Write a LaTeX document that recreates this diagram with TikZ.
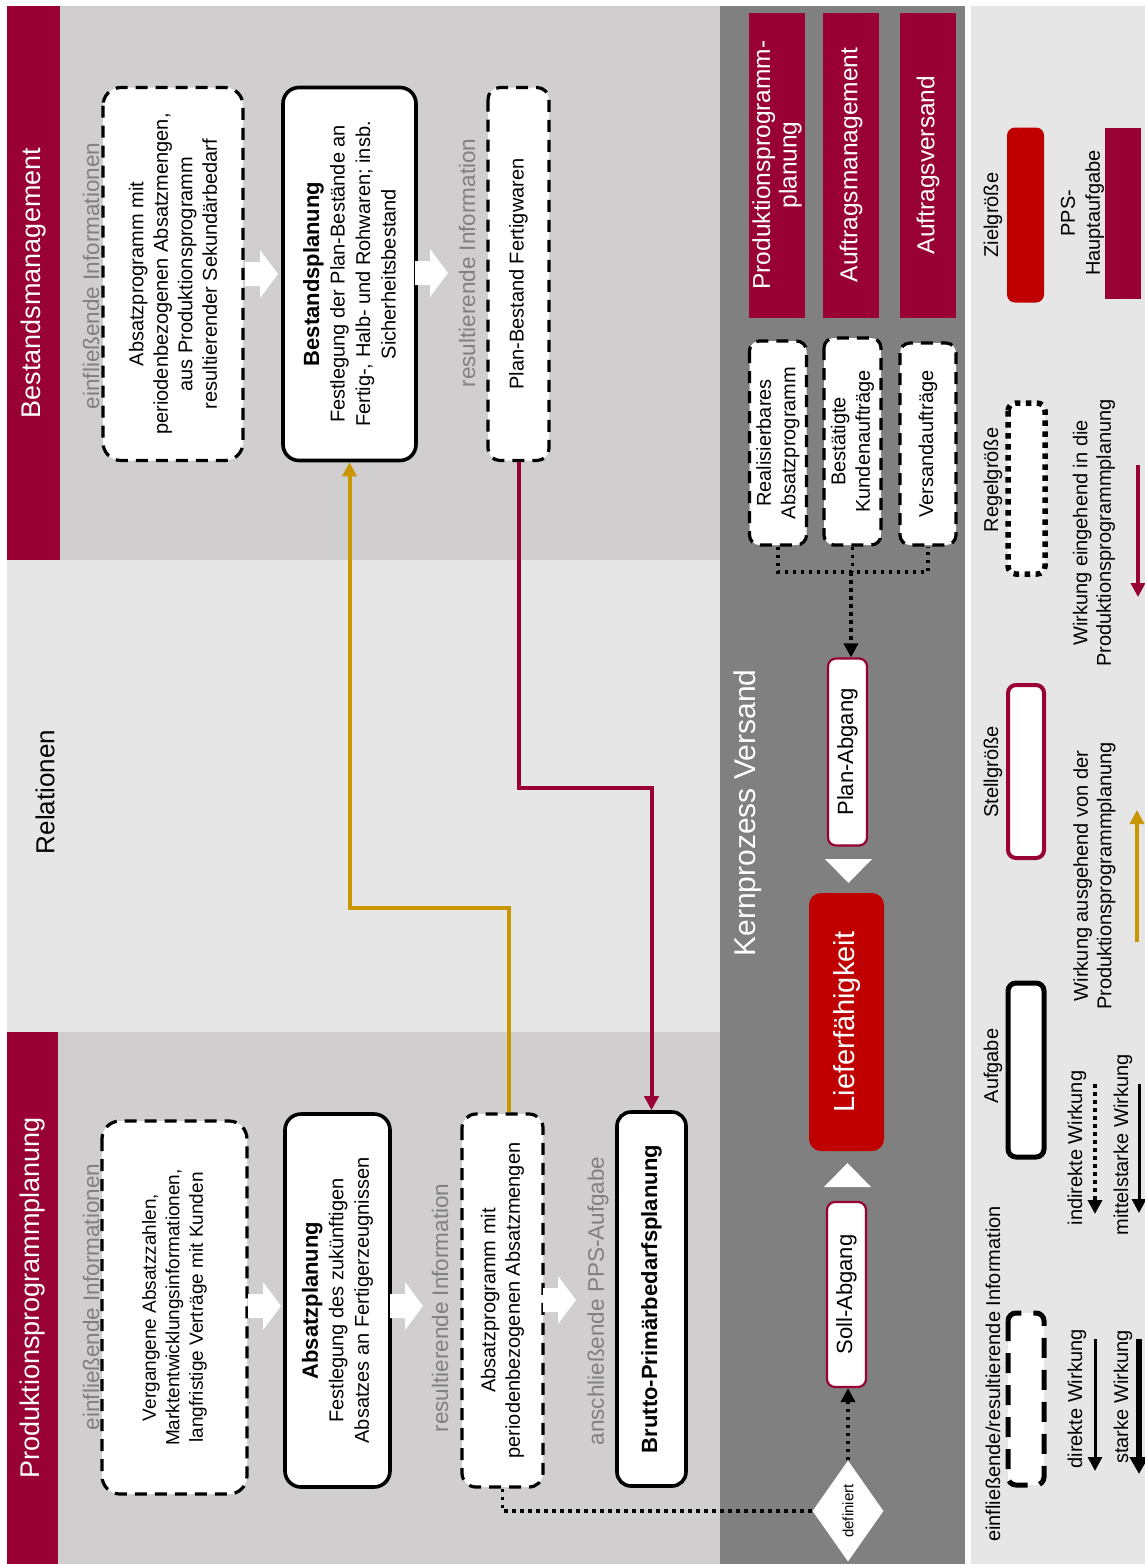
\documentclass[tikz,border=0pt]{standalone}
\usepackage{fontspec}
\setmainfont{Liberation Sans}
\usetikzlibrary{arrows.meta,shapes.geometric,calc}

\definecolor{pps}{RGB}{153,0,51}
\definecolor{ziel}{RGB}{192,0,0}
\definecolor{gold}{RGB}{200,150,0}
\definecolor{secgray}{RGB}{208,206,206}
\definecolor{palegray}{RGB}{230,230,230}
\definecolor{bandgray}{RGB}{128,128,128}
\definecolor{labelgray}{RGB}{128,128,128}

\newcommand{\fs}[2]{\fontsize{#1}{#2}\selectfont}
% white block arrow pointing right, starting at x=#1, centred on y=#2
\newcommand{\flowarrow}[2]{%
  \fill[white] (#1,#2-12) -- ++(15,0) -- ++(0,-12) -- (#1+33,#2)
    -- (#1+15,#2+24) -- ++(0,-12) -- (#1,#2+12) -- cycle;}

\tikzset{
  vbox/.style={rotate=90, inner sep=0pt, align=center},
  titleband/.style={vbox, fill=pps, text=white, font=\fs{27}{32}},
  infobox/.style={vbox, draw=black, fill=white, line width=3.2pt,
    dash pattern=on 12pt off 8pt, rounded corners=18pt, font=\fs{20}{24.5}},
  taskbox/.style={vbox, draw=black, fill=white, line width=3.6pt,
    rounded corners=16pt, font=\fs{20}{25.5}},
  graylabel/.style={vbox, text=labelgray, font=\fs{22.5}{26}},
  hauptbox/.style={vbox, fill=pps, text=white, font=\fs{24.5}{26.5}},
  abgangbox/.style={vbox, draw=pps, fill=white, line width=2.2pt,
    rounded corners=8pt, font=\fs{22}{26}},
  legendlabel/.style={vbox, font=\fs{20}{23.5}},
  dotline/.style={line width=3.6pt, dash pattern=on 3.6pt off 4.4pt},
  tipsmall/.style={-{Triangle[width=14pt,length=14pt]}},
  crimsonline/.style={draw=pps, line width=4pt},
  goldline/.style={draw=gold, line width=4pt}
}

\begin{document}
\begin{tikzpicture}[x=1pt,y=-1pt]
\clip (0,0) rectangle (1145,1564);
\fill[white] (0,0) rectangle (1145,1564);

% ---------- background areas ----------
\fill[secgray]  (7,6) rectangle (720,560);
\fill[palegray] (7,560) rectangle (720,1032);
\fill[secgray]  (7,1032) rectangle (720,1564);
\fill[bandgray] (720,6) rectangle (965,1564);
\fill[palegray] (971,6) rectangle (1145,1564);

% ---------- section title bands ----------
\node[titleband, minimum width=554, minimum height=53] (tbm) at (33.5,283) {Bestandsmanagement};
\node[titleband, minimum width=532, minimum height=51] (tpp) at (32.5,1298) {Produktionsprogrammplanung};
\node[vbox, font=\fs{26}{30}] (rel) at (45,792) {Relationen};

% ---------- Bestandsmanagement ----------
\node[infobox, minimum width=373, minimum height=140] (bin) at (173,274)
  {Absatzprogramm mit\\periodenbezogenen Absatzmengen,\\aus Produktionsprogramm\\resultierender Sekundärbedarf};
\node[graylabel] (binl) at (91,276) {einfließende Informationen};
\flowarrow{245}{274}
\node[taskbox, minimum width=373, minimum height=133] (bp) at (349.5,274)
  {{\bfseries\fs{22}{26}Bestandsplanung}\\Festlegung der Plan-Bestände an\\Fertig-, Halb- und Rohwaren; insb.\\Sicherheitsbestand};
\flowarrow{415}{273}
\node[graylabel] (bres) at (467,263) {resultierende Information};
\node[infobox, minimum width=373, minimum height=61, rounded corners=12pt] (pb) at (518.5,274)
  {Plan-Bestand Fertigwaren};

% ---------- Produktionsprogrammplanung ----------
\node[infobox, minimum width=373, minimum height=145, font=\fs{19}{23.5}] (pin) at (174.5,1307.5)
  {Vergangene Absatzzahlen,\\Marktentwicklungsinformationen,\\langfristige Verträge mit Kunden};
\node[graylabel] (pinl) at (91,1297) {einfließende Informationen};
\flowarrow{248}{1306}
\node[taskbox, minimum width=373, minimum height=105] (ap) at (337.5,1300.5)
  {{\bfseries\fs{22}{26}Absatzplanung}\\Festlegung des zukünftigen\\Absatzes an Fertigerzeugnissen};
\flowarrow{390}{1306}
\node[graylabel] (pres) at (440,1308) {resultierende Information};
\node[infobox, minimum width=373, minimum height=81, rounded corners=14pt] (apg) at (502.5,1300.5)
  {Absatzprogramm mit\\periodenbezogenen Absatzmengen};
\flowarrow{543}{1300}
\node[graylabel] (pnext) at (598,1301) {anschließende PPS-Aufgabe};
\node[taskbox, minimum width=374, minimum height=69, rounded corners=14pt] (brutto) at (651.5,1299)
  {\bfseries\fs{22}{26}Brutto-Primärbedarfsplanung};

% ---------- relations between the sections ----------
\draw[goldline, tipsmall] ($(apg.east)+(6,0)$) -- ++(0,-204) -| (bp.west);
\draw[crimsonline, tipsmall] (pb.west) -- ++(0,326) -| (brutto.east);

% ---------- Kernprozess Versand ----------
\node[vbox, text=white, font=\fs{30}{34}] (kv) at (748,813) {Kernprozess Versand};

\node[hauptbox, minimum width=305, minimum height=56] (h1) at (777,165) {Produktionsprogramm-\\planung};
\node[hauptbox, minimum width=305, minimum height=56] (h2) at (851,165) {Auftragsmanagement};
\node[hauptbox, minimum width=305, minimum height=56] (h3) at (928,165) {Auftragsversand};

\node[infobox, minimum width=204, minimum height=57, rounded corners=10pt] (rb) at (778,443)
  {Realisierbares\\Absatzprogramm};
\node[infobox, minimum width=207, minimum height=57, rounded corners=10pt] (kb) at (852.5,441.5)
  {Bestätigte\\Kundenaufträge};
\node[infobox, minimum width=202, minimum height=56, rounded corners=10pt] (vb) at (928,444)
  {Versandaufträge};

\coordinate (jn) at (851,572);
\draw[dotline] (rb.west) |- (jn) -| (vb.west);
\draw[dotline] (kb.west) -- (kb.west |- jn);

\node[abgangbox, minimum width=187, minimum height=39] (pa) at (847.5,752) {Plan-Abgang};
\draw[dotline, tipsmall] (jn) -- (jn |- pa.east);

\fill[white] (825,859) -- (872,859) -- (848.5,883) -- cycle;
\node[vbox, fill=ziel, text=white, rounded corners=12pt, minimum width=258, minimum height=75,
  font=\fs{29}{34}] (lf) at (846.5,1022) {Lieferfähigkeit};
\fill[white] (824,1187) -- (871,1187) -- (847.5,1163) -- cycle;

\node[abgangbox, minimum width=185, minimum height=39] (sa) at (846.5,1294.5) {Soll-Abgang};
\node[vbox, shape=diamond, fill=white, minimum width=101, minimum height=71,
  font=\fs{15}{18}] (df) at (848,1511) {definiert};
\draw[dotline, tipsmall] (df.east) -- (df.east |- sa.west);
\draw[dotline] (apg.west) |- (df.north);

% ---------- legend ----------
\node[legendlabel] (lz) at (993,215) {Zielgröße};
\node[vbox, fill=ziel, rounded corners=8pt, minimum width=175, minimum height=37] (zb) at (1025.5,215) {};
\node[legendlabel, font=\fs{20}{25}] (lh) at (1082.5,213) {PPS-\\Hauptaufgabe};
\node[vbox, fill=pps, minimum width=171, minimum height=36] (hb) at (1123,213) {};

\node[legendlabel] (lr) at (993,480) {Regelgröße};
\node[vbox, draw=black, fill=white, line width=5.5pt, dash pattern=on 5.5pt off 5.5pt,
  rounded corners=8pt, minimum width=171, minimum height=37] (rgb) at (1026.5,488.5) {};
\node[legendlabel] (lwe) at (1094,533) {Wirkung eingehend in die\\Produktionsprogrammplanung};
\coordinate (we1) at (1138,465);
\coordinate (we2) at (1138,597);
\draw[crimsonline, tipsmall] (we1) -- (we2);

\node[legendlabel] (ls) at (993,772) {Stellgröße};
\node[vbox, draw=pps, fill=white, line width=4pt, rounded corners=8pt,
  minimum width=173, minimum height=36] (sgb) at (1026,771.5) {};
\node[legendlabel] (lwa) at (1094.5,876) {Wirkung ausgehend von der\\Produktionsprogrammplanung};
\coordinate (wa1) at (1137,942);
\coordinate (wa2) at (1137,810);
\draw[goldline, tipsmall] (wa1) -- (wa2);

\node[legendlabel] (la) at (993,1066) {Aufgabe};
\node[vbox, draw=black, fill=white, line width=5pt, rounded corners=8pt,
  minimum width=174, minimum height=36] (agb) at (1026,1070) {};
\node[legendlabel] (lind) at (1077,1148) {indirekte Wirkung};
\coordinate (iw1) at (1095,1084);
\coordinate (iw2) at (1095,1214);
\draw[dotline, tipsmall] (iw1) -- (iw2);
\node[legendlabel] (lmit) at (1123,1145) {mittelstarke Wirkung};
\coordinate (mw1) at (1139,1084);
\coordinate (mw2) at (1139,1213);
\draw[line width=3pt, tipsmall] (mw1) -- (mw2);

\node[legendlabel] (lei) at (993,1374) {einfließende/resultierende Information};
\node[vbox, draw=black, fill=white, line width=5pt, dash pattern=on 20pt off 12pt,
  rounded corners=8pt, minimum width=172, minimum height=36] (eib) at (1026,1399) {};
\node[legendlabel] (ldir) at (1077,1399) {direkte Wirkung};
\coordinate (dw1) at (1095,1339);
\coordinate (dw2) at (1095,1471);
\draw[line width=3pt, tipsmall] (dw1) -- (dw2);
\node[legendlabel] (lsta) at (1123,1397) {starke Wirkung};
\coordinate (sw1) at (1139,1339);
\coordinate (sw2) at (1139,1474);
\draw[line width=6pt, -{Triangle[width=18pt,length=17pt]}] (sw1) -- (sw2);
\end{tikzpicture}
\end{document}
